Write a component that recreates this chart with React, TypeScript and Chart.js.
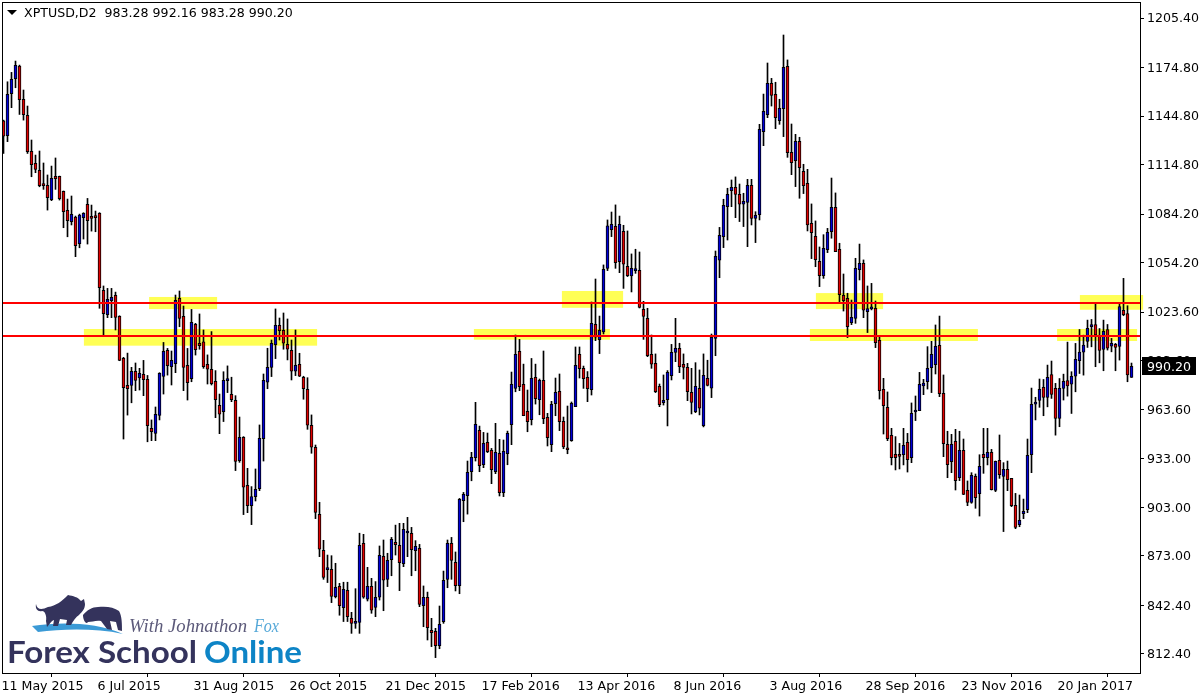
import React, { useEffect, useRef } from "react";
import Chart from "chart.js/auto";

const symbolTitle = "XPTUSD,D2  983.28 992.16 983.28 990.20";
const lastPriceLabel = "990.20";
const lastPrice = 990.2;

const opens = [
1141.9,1132.7,1158.6,1167.9,1175.7,1155.1,1145.2,1123.0,1115.6,1111.2,
1102.2,1102.0,1093.1,1107.5,1107.5,1098.3,1086.5,1079.5,1082.4,1065.9,
1082.0,1090.2,1082.8,1082.2,1084.7,1037.1,1022.0,1030.7,1034.0,1021.0,
995.0,978.4,978.4,987.0,982.9,985.2,982.1,951.8,948.7,959.8,
983.9,1000.0,989.9,991.8,1032.1,1021.0,990.7,982.5,1016.1,1004.4,
1005.2,991.4,988.3,980.9,966.0,962.1,981.3,972.8,969.1,931.8,
946.3,916.6,904.0,909.6,914.5,945.4,980.3,989.5,1003.5,1015.5,
1012.4,1003.7,1000.0,987.1,991.4,983.3,975.9,953.7,940.1,898.7,
876.4,864.5,864.7,847.8,854.2,841.0,851.7,834.4,831.3,831.9,
880.8,846.2,854.2,841.2,847.4,872.7,858.5,870.6,881.3,879.5,
868.2,887.1,886.9,876.2,877.6,842.2,847.3,827.0,826.3,817.5,
832.3,858.5,880.7,869.0,854.6,907.1,910.2,925.0,933.7,950.6,
929.3,943.1,938.2,925.0,936.4,912.0,936.1,954.1,976.5,999.4,
979.0,962.3,957.1,983.3,969.5,981.5,958.6,941.7,967.0,974.7,
956.1,939.4,944.2,965.2,997.5,988.9,983.3,975.7,1016.1,1006.6,
1011.4,1050.7,1074.6,1076.7,1054.8,1073.6,1051.9,1046.0,1049.3,1049.5,
1025.4,1019.8,997.6,992.0,977.8,967.7,969.5,984.4,998.8,1001.3,
991.4,989.5,974.1,962.1,976.6,953.5,982.7,976.6,1007.4,1055.7,
1070.3,1088.8,1098.7,1100.8,1096.4,1090.3,1091.5,1102.0,1081.6,1083.9,
1135.2,1145.7,1165.0,1158.2,1142.0,1149.4,1175.5,1122.4,1117.2,1129.2,
1110.7,1103.2,1078.5,1070.5,1055.0,1046.2,1062.2,1073.4,1088.4,1062.5,
1034.0,1032.2,1017.1,1019.8,1049.9,1053.8,1023.9,1025.6,1026.0,1006.2,
975.9,964.8,947.5,935.7,935.3,935.5,943.2,933.7,961.9,962.7,
978.0,980.6,989.3,991.2,1003.1,973.4,941.9,931.2,943.8,921.3,
938.2,913.5,906.1,922.1,911.4,935.7,933.7,937.0,913.5,932.0,
922.1,926.5,920.9,904.2,892.3,899.1,901.6,935.5,966.8,969.1,
977.1,970.9,985.1,976.5,957.9,976.5,981.4,979.1,984.1,993.6,
998.9,1005.5,1014.6,1016.0,1009.0,1000.6,1012.9,1002.6,1003.7,1002.4,
1024.7,1022.8,983.28,
];

const highs = [
1142.3,1166.0,1171.8,1178.8,1176.3,1160.9,1151.0,1130.0,1120.7,1123.2,
1115.8,1108.4,1113.9,1118.9,1107.7,1098.5,1093.5,1095.4,1083.0,1084.2,
1085.1,1093.9,1089.8,1086.1,1085.1,1039.8,1038.3,1038.3,1036.0,1021.4,
995.7,998.3,989.5,992.2,988.9,993.8,984.5,957.0,965.0,986.2,
1004.9,1001.2,999.6,1034.2,1036.7,1027.4,1001.2,1025.3,1016.7,1022.5,
1012.6,997.2,1011.6,987.5,973.0,986.8,990.4,983.4,972.0,958.8,
946.7,927.1,915.8,926.7,953.9,985.4,1001.3,1006.4,1025.6,1020.0,
1023.1,1019.4,1006.4,1012.6,998.2,984.0,983.1,960.1,941.5,906.1,
882.6,873.5,873.1,868.4,856.0,856.7,856.7,838.1,852.7,887.0,
886.3,865.9,859.1,857.1,879.1,882.8,874.6,884.4,892.0,893.1,
893.1,896.8,890.6,882.4,880.1,854.4,850.6,834.4,828.2,842.0,
863.6,882.8,884.4,875.4,908.5,912.2,931.6,937.0,967.9,953.2,
949.3,948.9,939.4,954.9,945.0,944.6,950.1,986.6,1009.5,1006.8,
991.5,975.5,995.0,991.5,982.3,999.6,961.1,968.5,982.9,985.4,
958.8,965.6,968.1,1002.1,1002.1,990.3,986.9,1029.9,1044.1,1021.2,
1052.8,1080.6,1085.5,1089.9,1083.0,1077.3,1073.8,1059.6,1062.5,1060.8,
1030.3,1026.0,1009.5,997.8,979.2,984.8,987.5,1003.7,1019.8,1004.4,
997.8,992.0,988.9,992.4,987.9,997.8,993.9,1010.1,1061.4,1076.0,
1093.4,1100.2,1105.3,1107.2,1102.8,1097.1,1105.7,1105.7,1085.7,1139.7,
1158.4,1177.6,1168.1,1165.7,1155.2,1194.9,1179.5,1139.9,1133.5,1131.7,
1115.0,1111.9,1090.5,1080.0,1063.9,1071.5,1075.4,1106.5,1097.3,1066.2,
1047.2,1035.3,1031.1,1056.9,1065.7,1055.9,1039.8,1041.4,1030.5,1008.5,
982.7,974.3,951.8,946.7,942.5,951.8,948.7,967.5,971.8,986.4,
982.1,1002.3,1005.6,1015.7,1021.2,984.8,950.0,948.1,951.2,950.0,
945.2,919.3,924.4,923.6,935.5,951.8,951.8,938.8,931.6,947.7,
930.6,931.6,920.9,911.6,910.6,908.1,945.2,976.7,971.0,982.3,
982.0,990.9,993.4,979.6,982.6,985.3,1005.1,986.8,1004.3,1012.9,
1009.4,1018.7,1019.1,1029.0,1013.5,1018.7,1016.0,1007.4,1004.3,1029.0,
1044.5,1027.6,992.16,
];

const lows = [
1121.7,1129.0,1150.0,1162.3,1145.8,1142.3,1121.7,1107.3,1109.8,1101.1,
1099.5,1086.7,1092.5,1099.5,1092.9,1075.8,1070.2,1077.5,1057.9,1063.4,
1068.8,1065.7,1073.7,1073.3,1026.0,1009.1,1020.2,1020.2,1012.6,993.6,
945.2,960.0,967.6,975.1,975.5,972.0,943.5,944.2,944.2,957.0,
973.0,984.7,978.6,986.2,1014.6,975.1,969.3,980.6,997.1,1000.7,
988.9,979.2,978.6,958.4,948.5,956.0,973.9,968.3,925.7,930.8,
898.5,899.7,892.3,906.9,913.3,931.6,976.3,983.8,994.9,1006.4,
1000.7,994.1,981.7,984.4,983.8,969.8,951.2,936.4,896.0,872.5,
858.5,856.5,844.1,847.0,836.3,832.4,832.4,825.1,828.2,825.1,
846.8,845.1,837.5,835.4,845.7,839.1,854.0,860.7,873.5,851.5,
866.3,872.5,860.7,863.8,841.6,829.2,821.0,816.9,810.1,815.6,
831.3,853.3,858.5,851.3,849.6,894.1,898.8,919.4,931.6,925.0,
927.5,936.8,917.6,923.8,910.0,909.6,929.3,941.7,974.4,975.1,
959.6,949.7,953.9,966.8,960.2,954.7,940.9,937.4,959.6,950.4,
939.2,936.1,943.8,965.2,982.9,976.5,968.3,972.4,1006.0,998.0,
1010.1,1049.3,1070.3,1050.7,1048.0,1038.3,1045.6,1036.1,1047.6,1026.2,
1006.8,996.1,988.9,973.9,965.2,966.2,953.3,981.7,993.0,986.2,
982.3,968.9,960.7,961.5,960.1,952.7,978.0,970.8,996.7,1044.9,
1063.5,1068.2,1088.8,1082.0,1079.6,1076.5,1064.1,1077.5,1066.6,1080.6,
1126.5,1143.8,1151.0,1137.0,1139.7,1132.1,1119.3,1108.6,1101.2,1094.0,
1096.9,1073.8,1056.7,1051.7,1039.4,1044.5,1060.4,1069.3,1061.0,1028.9,
1024.3,1007.9,1015.9,1016.7,1043.5,1020.2,1011.0,1025.0,1001.7,969.9,
948.3,944.2,929.2,926.1,926.7,929.2,924.8,930.6,956.6,962.7,
972.6,976.1,973.9,985.4,971.4,934.3,921.3,924.4,913.7,919.5,
910.8,904.0,905.5,902.4,897.6,924.0,929.2,913.7,912.7,920.9,
888.0,913.3,903.4,889.8,891.0,896.0,899.7,924.4,957.0,964.8,
959.6,965.1,970.3,947.6,952.8,969.3,971.7,961.0,974.4,985.7,
984.7,1001.8,1002.2,989.9,992.3,987.4,1000.2,999.1,987.4,994.0,
1021.4,980.6,983.28,
];

const closes = [
1132.4,1158.2,1167.5,1176.1,1154.9,1145.6,1122.8,1114.7,1111.9,1101.8,
1101.8,1094.3,1106.3,1106.1,1093.7,1085.7,1080.1,1084.0,1064.7,1083.6,
1084.7,1080.1,1081.6,1082.0,1038.7,1022.7,1031.5,1032.7,1020.4,993.8,
976.9,976.3,987.0,981.5,985.8,981.9,953.4,949.7,960.4,985.8,
999.4,990.5,993.8,1030.9,1019.8,989.5,980.0,1017.3,1000.4,1002.9,
989.9,988.3,979.4,969.5,960.5,981.5,982.1,969.5,931.4,946.3,
915.4,904.0,909.6,914.1,945.6,981.5,989.5,1004.4,1015.5,1012.2,
1004.4,1000.7,987.1,990.8,984.0,976.3,953.7,940.1,899.9,877.1,
859.7,865.3,848.0,853.6,842.2,852.3,835.4,831.3,831.5,879.5,
847.4,854.2,839.4,847.4,873.3,857.9,870.3,883.2,879.9,868.8,
889.4,887.5,876.8,878.9,843.0,847.3,828.6,825.5,817.5,830.7,
857.8,880.7,870.2,854.6,907.9,911.0,924.6,933.9,954.3,928.7,
942.5,937.4,926.2,937.0,912.0,937.6,948.7,979.0,997.5,977.5,
959.6,955.9,982.7,970.1,981.5,957.8,946.0,966.6,974.0,955.9,
940.4,938.6,967.2,990.7,988.7,982.5,976.3,1016.7,1008.1,1012.4,
1050.1,1076.9,1077.9,1054.2,1077.9,1053.2,1046.2,1050.7,1050.1,1026.6,
1021.0,996.7,991.4,974.5,966.5,969.1,986.4,998.8,1001.3,989.9,
989.5,974.5,967.9,977.8,964.2,984.6,978.4,1008.1,1058.1,1071.1,
1089.6,1096.4,1100.8,1096.4,1090.3,1092.1,1102.0,1081.6,1083.5,1136.6,
1147.7,1165.0,1157.6,1143.8,1149.6,1174.9,1122.2,1116.0,1129.2,1112.9,
1101.8,1077.5,1072.8,1056.1,1046.2,1063.1,1073.0,1088.4,1061.0,1034.4,
1030.7,1014.7,1020.4,1050.7,1053.8,1024.8,1025.8,1026.0,1004.8,975.1,
965.8,945.4,933.7,933.7,934.5,941.3,932.4,961.1,962.5,979.0,
979.8,988.9,997.5,1002.5,973.2,942.3,929.4,941.9,919.5,938.2,
911.0,906.1,922.8,909.0,928.3,933.7,937.0,913.9,931.4,923.2,
926.5,920.1,904.0,890.6,895.0,900.5,935.1,966.6,967.3,975.9,
970.9,983.3,972.8,957.9,976.5,980.8,978.1,983.9,994.4,998.9,
1003.3,1013.6,1016.0,1009.6,1000.0,1011.7,1001.4,1004.3,1001.8,1027.1,
1022.0,984.9,990.20,
];

const priceTicks = [1205.4, 1174.8, 1144.8, 1114.8, 1084.2, 1054.2, 1023.6, 993.6, 963.6, 933.0, 903.0, 873.0, 842.4, 812.4];
const dateTickIndexes = [0, 24, 48, 72, 96, 120, 144, 168, 192, 216, 240, 264];
const dateTickLabels = ["11 May 2015", "6 Jul 2015", "31 Aug 2015", "26 Oct 2015", "21 Dec 2015", "17 Feb 2016", "13 Apr 2016", "8 Jun 2016", "3 Aug 2016", "28 Sep 2016", "23 Nov 2016", "20 Jan 2017"];

const levelPrices = [1029.4, 1009.0];
const zoneStarts = [36.4, 20.1, 117.6, 139.6, 203.1, 201.6, 263.4, 269.1];
const zoneEnds = [53.4, 78.4, 151.6, 154.9, 219.9, 243.6, 283.4, 284.9];
const zoneTops = [1033.0, 1013.2, 1013.2, 1036.7, 1035.4, 1013.2, 1013.2, 1034.2];
const zoneBottoms = [1025.5, 1002.9, 1006.6, 1026.3, 1025.5, 1005.8, 1005.8, 1025.1];

const FONT = '12.6px "DejaVu Sans"';
const indexes = opens.map((_, i) => i);

const mt4Plugin = {
  id: "mt4",
  beforeDatasetsDraw(chart: any) {
    const { ctx, scales } = chart;
    ctx.save();
    ctx.fillStyle = "#ffff55";
    zoneStarts.forEach((s, i) => {
      const x0 = scales.x.getPixelForValue(s);
      const x1 = scales.x.getPixelForValue(zoneEnds[i]);
      const y0 = scales.y.getPixelForValue(zoneTops[i]);
      const y1 = scales.y.getPixelForValue(zoneBottoms[i]);
      ctx.fillRect(x0, y0, x1 - x0, y1 - y0);
    });
    ctx.restore();
  },
  afterDatasetsDraw(chart: any) {
    const { ctx, scales, chartArea } = chart;
    ctx.save();
    ctx.strokeStyle = "#ff0000";
    ctx.lineWidth = 2;
    levelPrices.forEach((p) => {
      const y = Math.round(scales.y.getPixelForValue(p));
      ctx.beginPath();
      ctx.moveTo(chartArea.left + 1, y);
      ctx.lineTo(chartArea.right, y);
      ctx.stroke();
    });
    ctx.strokeStyle = "#000000";
    ctx.lineWidth = 1;
    ctx.strokeRect(chartArea.left + 0.5, chartArea.top + 0.5, chartArea.right - chartArea.left, chartArea.bottom - chartArea.top);

    ctx.fillStyle = "#000000";
    ctx.beginPath();
    ctx.moveTo(7, 10);
    ctx.lineTo(17, 10);
    ctx.lineTo(12, 15);
    ctx.closePath();
    ctx.fill();
    ctx.font = FONT;
    ctx.textBaseline = "middle";
    ctx.textAlign = "left";
    ctx.fillText(symbolTitle, 24, 14);

    const py = scales.y.getPixelForValue(lastPrice);
    ctx.fillStyle = "#000000";
    ctx.fillRect(chartArea.right + 2, Math.round(py) - 9, 54, 18);
    ctx.fillStyle = "#ffffff";
    ctx.fillText(lastPriceLabel, chartArea.right + 7, py + 1.5);
    ctx.restore();
  },
};

export default function App() {
  const ref = useRef<HTMLCanvasElement>(null);
  useEffect(() => {
    const chart = new Chart(ref.current!, {
      type: "bar",
      data: {
        datasets: [
          {
            label: "Body",
            data: indexes.map((i) => ({ x: i, y: [opens[i], closes[i]] })),
            backgroundColor: indexes.map((i) => (closes[i] >= opens[i] ? "#0000d8" : "#e00000")),
            borderColor: "#000000",
            borderWidth: 1,
            borderSkipped: false,
            barThickness: 3,
            grouped: false,
            minBarLength: 2,
          },
          {
            label: "Wick",
            data: indexes.map((i) => ({ x: i, y: [lows[i], highs[i]] })),
            backgroundColor: "#000000",
            borderWidth: 0,
            barThickness: 1,
            grouped: false,
          },
        ],
      } as any,
      options: {
        animation: false,
        responsive: false,
        devicePixelRatio: 1,
        layout: { padding: { left: 2, top: 2, right: 0, bottom: 0 } },
        plugins: { legend: { display: false }, tooltip: { enabled: false } },
        scales: {
          x: {
            type: "linear",
            min: -0.375,
            max: 284.125,
            offset: false,
            grid: { display: true, drawOnChartArea: false, drawTicks: true, tickLength: 4, color: "#000000" },
            border: { display: true, color: "#000000" },
            afterBuildTicks: (s: any) => {
              s.ticks = dateTickIndexes.map((v) => ({ value: v }));
            },
            afterFit: (s: any) => {
              s.height = 27;
              s.paddingLeft = 0;
              s.paddingRight = 0;
            },
            ticks: {
              autoSkip: false,
              maxRotation: 0,
              minRotation: 0,
              align: "start",
              labelOffset: -2,
              padding: 2,
              color: "#000000",
              font: { family: "DejaVu Sans", size: 12.6 },
              callback: (v: any) => dateTickLabels[dateTickIndexes.indexOf(v)] ?? "",
            },
          },
          y: {
            type: "linear",
            position: "right",
            min: 800.6,
            max: 1215.3,
            grid: { display: true, drawOnChartArea: false, drawTicks: true, tickLength: 4, color: "#000000" },
            border: { display: true, color: "#000000" },
            afterBuildTicks: (s: any) => {
              s.ticks = priceTicks.map((v) => ({ value: v }));
            },
            afterFit: (s: any) => {
              s.width = 60;
              s.paddingTop = 0;
              s.paddingBottom = 0;
            },
            ticks: {
              autoSkip: false,
              padding: 3,
              labelOffset: 1,
              color: "#000000",
              font: { family: "DejaVu Sans", size: 12.6 },
              callback: (v: any) => Number(v).toFixed(2),
            },
          },
        },
      } as any,
      plugins: [mt4Plugin],
    });
    return () => chart.destroy();
  }, []);

  return (
    <div style={{ position: "fixed", left: 0, top: 0, width: 1200, height: 700, background: "#fff", overflow: "hidden" }}>
      <canvas ref={ref} width={1200} height={700} style={{ display: "block" }} />
      <svg width={1200} height={700} style={{ position: "absolute", left: 0, top: 0, pointerEvents: "none" }}>
        <path d="M32 626 C60 622 95 622 123 634 C95 628 62 629 38 632 Z" fill="#3b9ad6" />
        <path d="M36 604 C37 610 42 610 48 607 C56 606 62 601 68 595 C73 596 78 597 81 601 L84 599 L85 604 C85 609 82 612 79 615 C76 617 73 621 71 625 L66 625 L67 620 L60 619 L58 626 L53 626 L54 620 C51 621 50 624 47 627 L46 621 C47 616 45 611 42 611 C38 612 35 609 36 604 Z" fill="#34335c" />
        <path d="M83 615 C87 610 92 607 98 607 C106 606 114 607 119 611 C122 616 122 624 122 631 L118 630 L116 622 L110 621 L112 630 L107 629 L101 621 C96 620 92 622 88 622 C86 625 83 620 83 615 Z" fill="#34335c" />
        <text x={129} y={632} fontFamily="Liberation Serif" fontStyle="italic" fontSize={19} fill="#5c5a7a" textLength={118} lengthAdjust="spacingAndGlyphs">With Johnathon</text>
        <text x={254} y={632} fontFamily="Liberation Serif" fontStyle="italic" fontSize={19} fill="#55a8d8" textLength={25} lengthAdjust="spacingAndGlyphs">Fox</text>
        <text x={7} y={663} fontFamily="Lato" fontWeight={700} fontSize={30} fill="#34335c" textLength={190} lengthAdjust="spacingAndGlyphs">Forex School</text>
        <text x={204} y={663} fontFamily="Lato" fontWeight={700} fontSize={30} fill="#0d84c6" textLength={98} lengthAdjust="spacingAndGlyphs">Online</text>
      </svg>
    </div>
  );
}
